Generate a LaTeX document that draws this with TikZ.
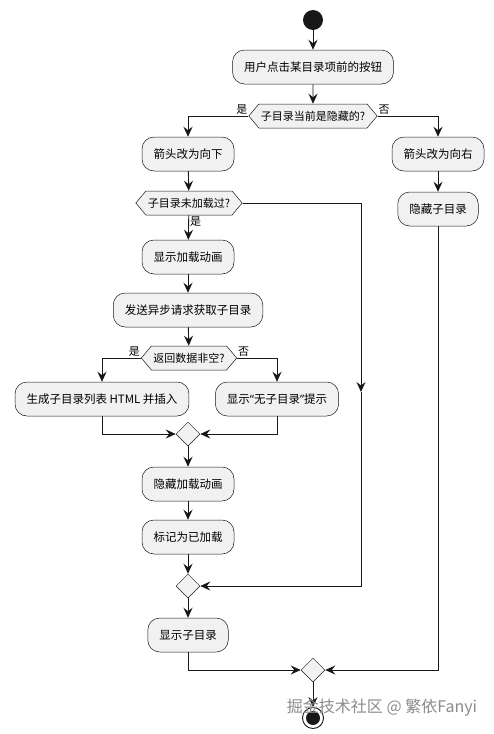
\documentclass[tikz,border=0pt]{standalone}
\usepackage{fontspec}
\setmainfont{Noto Sans CJK SC}
\newfontfamily\latinq{Noto Sans}
\usetikzlibrary{arrows.meta,shapes.geometric,shapes.symbols}
\definecolor{actfill}{HTML}{F1F1F1}
\definecolor{actline}{HTML}{181818}
\tikzset{
	act/.style={draw=actline, fill=actfill, line width=0.5pt, rounded corners=12pt, minimum height=34pt, inner xsep=11.5pt, font=\fontsize{11.5}{13}\selectfont},
	cond/.style={draw=actline, fill=actfill, line width=0.5pt, shape=signal, signal to=east and west, signal pointer angle=100, minimum height=24pt, inner xsep=2pt, inner ysep=2pt, font=\fontsize{11}{12}\selectfont},
	merge/.style={draw=actline, fill=actfill, line width=0.5pt, diamond, minimum size=24pt, inner sep=0pt},
	lbl/.style={inner sep=1pt, font=\fontsize{11}{12}\selectfont},
	arr/.style={-{Stealth[length=10pt,width=9pt,inset=3.5pt]}, line width=0.9pt, color=actline},
}
\begin{document}
\begin{tikzpicture}[x=1pt, y=-1pt]
			%%%%% START %%%%%
			\useasboundingbox[fill=white] (0, 0) rectangle (494, 734);
			
			\node[circle, fill=actline, minimum size=20pt, inner sep=0pt] (start) at (313, 20) {};
			\node[act] (click) at (313, 67) {用户点击某目录项前的按钮};
			\node[cond] (hidden) at (313, 116) {子目录当前是隐藏的?};
			
			\node[act] (down) at (188, 154) {箭头改为向下};
			\node[act] (right) at (438, 154) {箭头改为向右};
			\node[act] (hidesub) at (438, 209) {隐藏子目录};
			
			\node[cond] (notloaded) at (189, 203) {子目录未加载过?};
			\node[act] (showanim) at (188, 257) {显示加载动画};
			\node[act] (request) at (188, 310) {发送异步请求获取子目录};
			\node[cond] (nonempty) at (189, 358) {返回数据非空?};
			
			\node[act] (html) at (102, 399) {生成子目录列表 HTML 并插入};
			\node[act] (empty) at (277, 399) {显示{\latinq “}无子目录{\latinq ”}提示};
			\node[merge] (mergea) at (188, 434) {};
			
			\node[act] (hideanim) at (188, 484) {隐藏加载动画};
			\node[act] (mark) at (188, 537) {标记为已加载};
			\node[merge] (mergeb) at (188, 586) {};
			\coordinate (skip) at (361, 392);
			
			\node[act] (showsub) at (188, 635) {显示子目录};
			\node[merge] (mergec) at (313, 670) {};
			
			\node[circle, draw=actline, line width=0.9pt, minimum size=21pt, inner sep=0pt] (stop) at (313, 718) {};
			\node[circle, fill=actline, minimum size=14pt, inner sep=0pt] at (stop) {};
			
			% connectors
			\draw[arr] (start) -- (click);
			\draw[arr] (click) -- (hidden);
			\draw[arr] (hidden.west) -| (down.north);
			\draw[arr] (hidden.east) -| (right.north);
			\node[lbl, anchor=south east] at (hidden.west) {是};
			\node[lbl, anchor=south west] at (hidden.east) {否};
			
			\draw[arr] (right) -- (hidesub);
			\draw[arr] (down) -- (notloaded);
			\draw[arr] (notloaded) -- (showanim);
			\node[lbl, anchor=north west] at (notloaded.south) {是};
			\draw[arr] (notloaded.east) -| (skip);
			\draw[arr] (skip) |- (mergeb.east);
			
			\draw[arr] (showanim) -- (request);
			\draw[arr] (request) -- (nonempty);
			\draw[arr] (nonempty.west) -| (html.north);
			\draw[arr] (nonempty.east) -| (empty.north);
			\node[lbl, anchor=south east] at (nonempty.west) {是};
			\node[lbl, anchor=south west] at (nonempty.east) {否};
			
			\draw[arr] (html.south) |- (mergea.west);
			\draw[arr] (empty.south) |- (mergea.east);
			\draw[arr] (mergea) -- (hideanim);
			\draw[arr] (hideanim) -- (mark);
			\draw[arr] (mark) -- (mergeb);
			\draw[arr] (mergeb) -- (showsub);
			
			\draw[arr] (showsub.south) |- (mergec.west);
			\draw[arr] (hidesub.south) |- (mergec.east);
			\draw[arr] (mergec) -- (stop);
			
			\node[text=black!45, font=\fontsize{16}{18}\selectfont] (mark-wm) at (382, 708) {掘金技术社区 @ 繁依Fanyi};
			
			%%%%% END %%%%%
\end{tikzpicture}
\end{document}
